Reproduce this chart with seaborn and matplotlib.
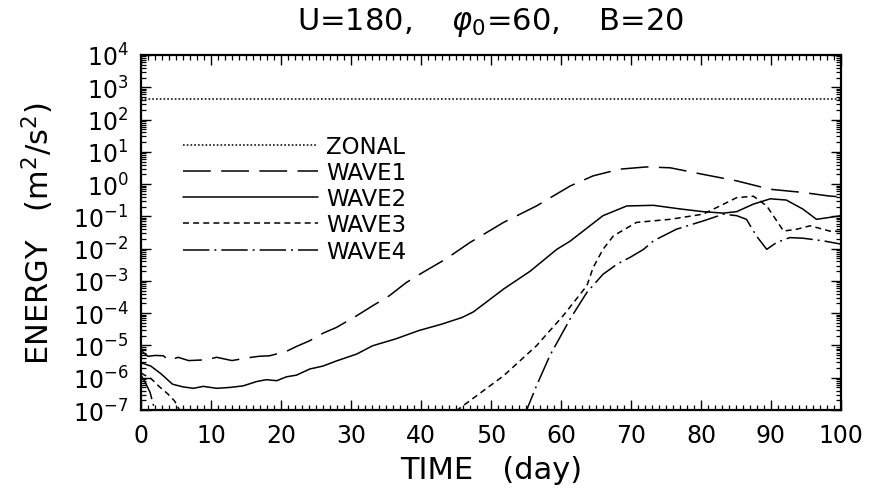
import numpy as np
import pandas as pd
import matplotlib
matplotlib.use("Agg")
import matplotlib.pyplot as plt
import seaborn as sns
from matplotlib.ticker import LogLocator, MultipleLocator, NullFormatter

# ---------------- data ----------------
zonal_day = [0, 100]
zonal_val = [440, 440]

wave1_day = [0, 1.0, 2.0, 3.2, 4.0, 5.3, 6.8, 9.4, 10.8, 13.0, 15.1, 16.8, 18.4, 20.8,
             22.2, 24.1, 26.0, 27.9, 30.8, 33.1, 35.5, 37.9, 40.2, 43.5, 47.0, 51.8,
             56.5, 61.3, 64.6, 68.4, 72.2, 75.6, 80.3, 85.1, 89.9, 94.6, 98.2, 100]
wave1_val = [7.0e-6, 4.6e-6, 4.9e-6, 4.8e-6, 3.4e-6, 4.3e-6, 3.4e-6, 3.6e-6, 4.3e-6,
             3.4e-6, 4.1e-6, 4.6e-6, 4.8e-6, 6.6e-6, 9.3e-6, 1.4e-5, 2.4e-5, 3.6e-5,
             8.3e-5, 1.7e-4, 3.5e-4, 8.9e-4, 1.8e-3, 4.7e-3, 1.55e-2, 6.5e-2, 0.21,
             0.87, 1.8, 2.9, 3.4, 3.2, 2.0, 1.26, 0.69, 0.55, 0.43, 0.40]

wave2_day = [0, 1.4, 2.9, 4.5, 6.0, 7.5, 8.9, 10.8, 12.7, 14.6, 16.5, 17.9, 19.4, 20.8,
             22.2, 24.1, 26.0, 27.9, 30.8, 33.1, 36.4, 39.7, 43.0, 45.9, 47.5, 51.8,
             55.6, 59.4, 61.3, 66.0, 69.4, 73.2, 77.0, 80.3, 83.2, 85.1, 87.5, 89.9,
             92.2, 94.6, 96.5, 98.4, 100]
wave2_val = [2.9e-6, 2.3e-6, 1.3e-6, 6.3e-7, 5.2e-7, 4.7e-7, 5.4e-7, 4.7e-7, 5.0e-7,
             5.6e-7, 7.6e-7, 8.7e-7, 8.1e-7, 1.07e-6, 1.2e-6, 1.86e-6, 2.3e-6, 3.3e-6,
             5.4e-6, 9.8e-6, 1.6e-5, 2.9e-5, 4.6e-5, 7.4e-5, 1.1e-4, 5.6e-4, 2.0e-3,
             9.5e-3, 1.7e-2, 0.105, 0.21, 0.22, 0.17, 0.14, 0.126, 0.14, 0.24, 0.35,
             0.32, 0.166, 0.081, 0.093, 0.105]

wave3_day = [0, 1.5, 2.7, 3.8, 4.8, 5.5, 7.0, 44.0, 45.2, 47.0, 51.8, 56.5, 60.3, 63.7,
             64.6, 66.0, 67.5, 70.8, 75.6, 80.3, 82.7, 85.1, 87.5, 89.4, 91.8, 93.7,
             95.6, 98.4, 100]
wave3_val = [1.4e-6, 9.1e-7, 5.1e-7, 3.2e-7, 1.9e-7, 1.0e-7, 2.5e-8, 2.5e-8, 1.0e-7,
             1.95e-7, 1.15e-6, 9.8e-6, 8.3e-5, 7.1e-4, 2.6e-3, 9.5e-3, 2.5e-2, 6.5e-2,
             8.1e-2, 0.117, 0.21, 0.38, 0.42, 0.21, 0.035, 0.040, 0.051, 0.035, 0.034]

wave4_day = [0, 0.6, 1.3, 1.8, 2.3, 54.5, 55.1, 56.5, 58.4, 61.3, 63.7, 66.0, 68.0, 69.9,
             71.8, 73.2, 76.5, 80.3, 83.2, 85.1, 86.5, 87.9, 89.4, 90.8, 92.7, 94.6,
             97.5, 100]
wave4_val = [1.2e-6, 7.2e-7, 3.5e-7, 1.35e-7, 4.0e-8, 4.0e-8, 1.0e-7, 5.6e-7, 4.8e-6,
             6.6e-5, 4.4e-4, 1.6e-3, 3.3e-3, 5.4e-3, 9.5e-3, 1.74e-2, 4.0e-2, 7.2e-2,
             0.117, 0.105, 0.081, 0.025, 9.5e-3, 1.55e-2, 2.2e-2, 2.1e-2, 1.74e-2,
             1.38e-2]

labels = ["ZONAL", "WAVE1", "WAVE2", "WAVE3", "WAVE4"]
x_ticks = list(range(0, 101, 10))

# ---------------- styling ----------------
sns.set_style("ticks")
plt.rcParams["font.family"] = ["DejaVu Sans"]
plt.rcParams["lines.scale_dashes"] = False
plt.rcParams["mathtext.fontset"] = "dejavusans"
for k in ["text.color", "axes.labelcolor", "xtick.color", "ytick.color", "axes.edgecolor"]:
    plt.rcParams[k] = "black"

styles = {
    "ZONAL": (0, (1.2, 1.5)),
    "WAVE1": (0, (20, 7.5)),
    "WAVE2": "-",
    "WAVE3": (0, (4.3, 3.0)),
    "WAVE4": (0, (19, 3.6, 1.4, 3.6)),
}
series = {
    "ZONAL": (zonal_day, zonal_val),
    "WAVE1": (wave1_day, wave1_val),
    "WAVE2": (wave2_day, wave2_val),
    "WAVE3": (wave3_day, wave3_val),
    "WAVE4": (wave4_day, wave4_val),
}

fig = plt.figure(figsize=(8.72, 4.89), dpi=100)
ax = fig.add_axes([0.1617, 0.1595, 0.8027, 0.726])

for name in labels:
    d, v = series[name]
    df = pd.DataFrame({"day": d, "energy": v})
    sns.lineplot(data=df, x="day", y="energy", ax=ax, color="black", linewidth=1.1,
                 linestyle=styles[name], label=name, sort=False, estimator=None)

ax.set_yscale("log")
ax.set_xlim(0, 100)
ax.set_ylim(1e-7, 1e4)
ax.set_xticks(x_ticks)
ax.set_xticklabels([str(t) for t in x_ticks])
ax.xaxis.set_minor_locator(MultipleLocator(1))
ax.yaxis.set_major_locator(LogLocator(base=10, numticks=20))
ax.yaxis.set_minor_locator(LogLocator(base=10, subs=np.arange(2, 10), numticks=20))
ax.yaxis.set_minor_formatter(NullFormatter())

ax.tick_params(which="both", direction="in", top=True, right=True, color="black")
ax.tick_params(which="major", length=7.2, width=1.0, labelsize=17, pad=9)
ax.tick_params(which="minor", length=3.6, width=0.9)
for s in ax.spines.values():
    s.set_linewidth(1.6)
    s.set_color("black")

ax.set_xlabel("TIME   (day)", fontsize=22, labelpad=6)
ax.set_ylabel("ENERGY   (m$^2$/s$^2$)", fontsize=22, labelpad=12)
ax.set_title(r"U=180,    $\varphi_0$=60,    B=20", fontsize=22, pad=19)

leg = ax.legend(loc="upper left", bbox_to_anchor=(0.06, 0.775), frameon=False,
                fontsize=16.5, handlelength=5.9, handletextpad=0.35, labelspacing=0.14,
                borderaxespad=0, borderpad=0)
for h in leg.get_lines():
    h.set_linewidth(1.1)

fig.savefig("out.png", dpi=100)
